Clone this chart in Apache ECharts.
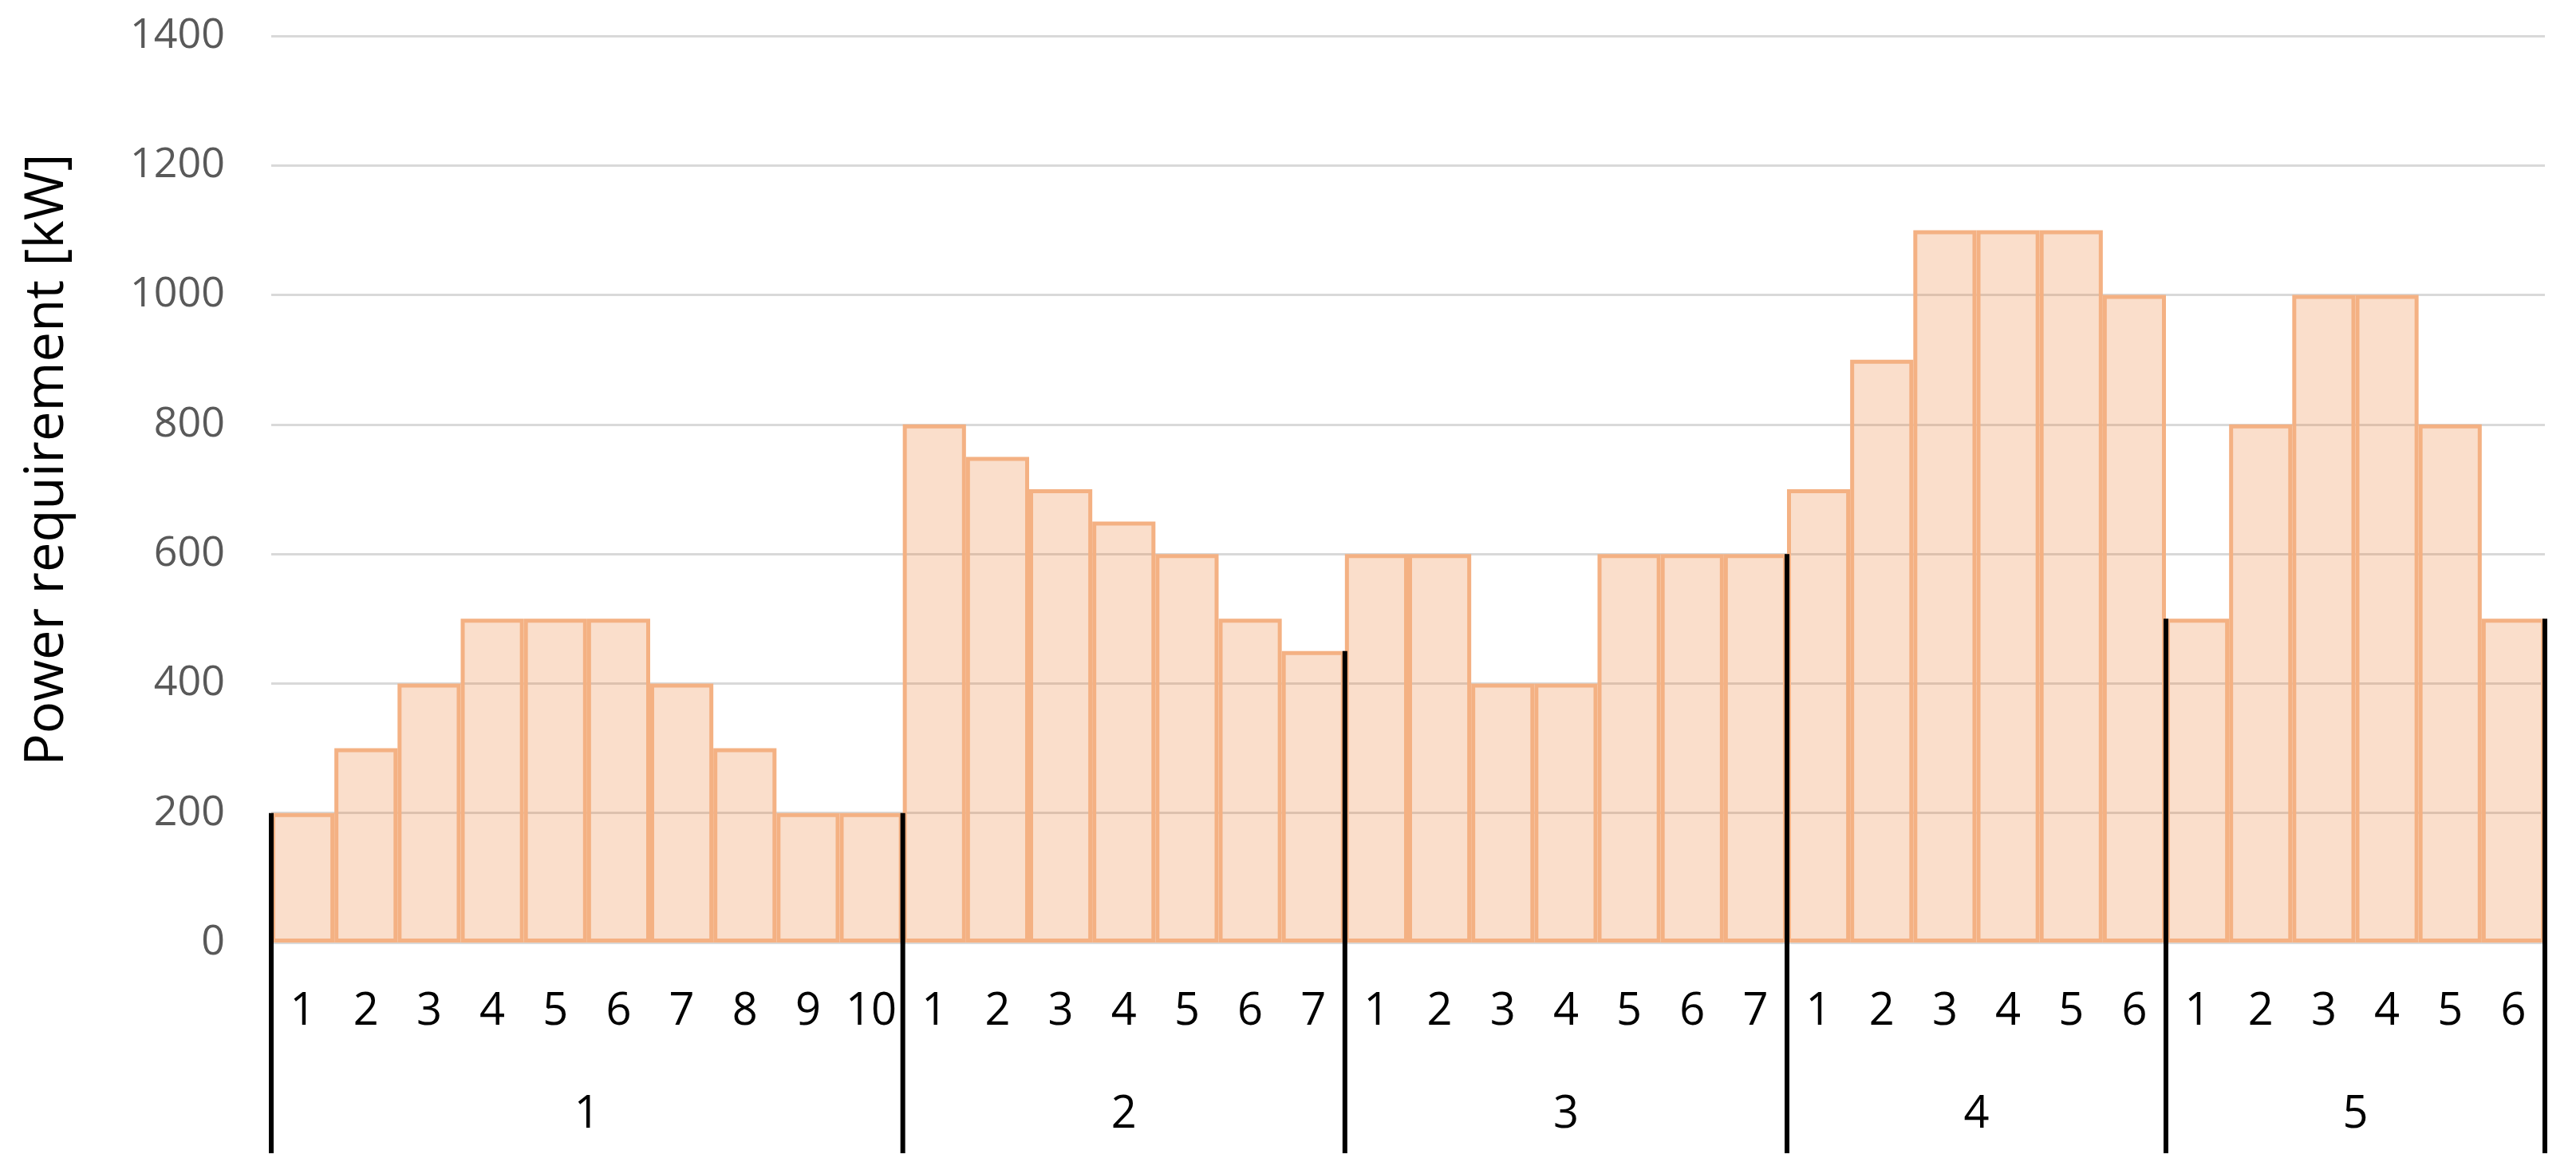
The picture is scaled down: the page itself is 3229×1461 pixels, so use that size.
<!DOCTYPE html>
<html>
<head>
<meta charset="utf-8">
<title>Power requirement</title>
<script src="https://cdn.jsdelivr.net/npm/echarts@6/dist/echarts.min.js"></script>
<style>
  html, body { margin: 0; padding: 0; background: #fff; }
  #chart { width: 3229px; height: 1461px; }
</style>
</head>
<body>
<div id="chart"></div>
<script>
// groups on the lower axis row, and the steps inside each group
const groupLabels = ['1', '2', '3', '4', '5'];
const stepLabels = [
  ['1', '2', '3', '4', '5', '6', '7', '8', '9', '10'],
  ['1', '2', '3', '4', '5', '6', '7'],
  ['1', '2', '3', '4', '5', '6', '7'],
  ['1', '2', '3', '4', '5', '6'],
  ['1', '2', '3', '4', '5', '6']
];
// power requirement in kW
const group1 = [200, 300, 400, 500, 500, 500, 400, 300, 200, 200];
const group2 = [800, 750, 700, 650, 600, 500, 450];
const group3 = [600, 600, 400, 400, 600, 600, 600];
const group4 = [700, 900, 1100, 1100, 1100, 1000];
const group5 = [500, 800, 1000, 1000, 800, 500];
const groupValues = [group1, group2, group3, group4, group5];

const yTicks = [0, 200, 400, 600, 800, 1000, 1200, 1400];

// flatten for the category axis
var categories = [];
var values = [];
stepLabels.forEach(function (labels, g) {
  labels.forEach(function (l, i) {
    categories.push(l);
    values.push(groupValues[g][i]);
  });
});

// group dividers: [barIndex, startValue, side]  side -1 = left edge, 1 = right edge
var dividers = [];
var groupSpans = [];
var start = 0;
groupValues.forEach(function (vals, g) {
  var end = start + vals.length - 1;
  var prev = g > 0 ? groupValues[g - 1][groupValues[g - 1].length - 1] : vals[0];
  dividers.push([start, Math.min(prev, vals[0]), -1]);
  groupSpans.push([start, 0, end, groupLabels[g]]);
  start = end + 1;
});
var lastVals = groupValues[groupValues.length - 1];
dividers.push([start - 1, lastVals[lastVals.length - 1], 1]);

var chart = echarts.init(document.getElementById('chart'));

var option = {
  animation: false,
  textStyle: { fontFamily: 'Open Sans' },
  grid: { left: 340, right: 39, top: 45, bottom: 280 },
  xAxis: {
    type: 'category',
    data: categories,
    axisTick: { show: false },
    axisLine: { show: true, lineStyle: { color: '#D9D9D9', width: 3 } },
    axisLabel: { interval: 0, fontSize: 56, color: '#000', margin: 59, fontFamily: 'Open Sans' }
  },
  yAxis: {
    type: 'value',
    min: yTicks[0],
    max: yTicks[yTicks.length - 1],
    interval: 200,
    name: 'Power requirement [kW]',
    nameLocation: 'middle',
    nameGap: 247,
    nameTextStyle: { fontSize: 67, color: '#000', fontFamily: 'Open Sans', padding: [0, 0, 0, 74] },
    axisLine: { show: false },
    axisTick: { show: false },
    axisLabel: {
      fontSize: 52, color: '#595959', margin: 58, fontFamily: 'Open Sans',
      formatter: function (v) { return String(v); }
    },
    splitLine: { lineStyle: { color: '#D9D9D9', width: 3 } }
  },
  series: [
    {
      type: 'bar',
      data: values,
      barCategoryGap: '0%',
      itemStyle: {
        color: 'rgba(237,125,49,0.25)',
        borderColor: '#F4B183',
        borderWidth: 5
      }
    },
    {
      // black group dividers
      type: 'custom',
      clip: false,
      z: 5,
      data: dividers,
      encode: { x: 0, y: 1 },
      renderItem: function (params, api) {
        var top = api.coord([api.value(0), api.value(1)]);
        var base = api.coord([api.value(0), 0]);
        var bw = api.size([1, 0])[0];
        var x = top[0] + api.value(2) * bw / 2;
        return {
          type: 'line',
          shape: { x1: x, y1: top[1], x2: x, y2: base[1] + 264 },
          style: { stroke: '#000', lineWidth: 6 }
        };
      }
    },
    {
      // group labels on the second row
      type: 'custom',
      clip: false,
      data: groupSpans,
      encode: { x: 0, y: 1 },
      renderItem: function (params, api) {
        var a = api.coord([api.value(0), 0]);
        var b = api.coord([api.value(2), 0]);
        return {
          type: 'text',
          style: {
            x: (a[0] + b[0]) / 2,
            y: a[1] + 216,
            text: groupSpans[params.dataIndex][3],
            fill: '#000',
            font: '56px "Open Sans"',
            align: 'center',
            verticalAlign: 'middle'
          }
        };
      }
    }
  ]
};

chart.setOption(option);
</script>
</body>
</html>
